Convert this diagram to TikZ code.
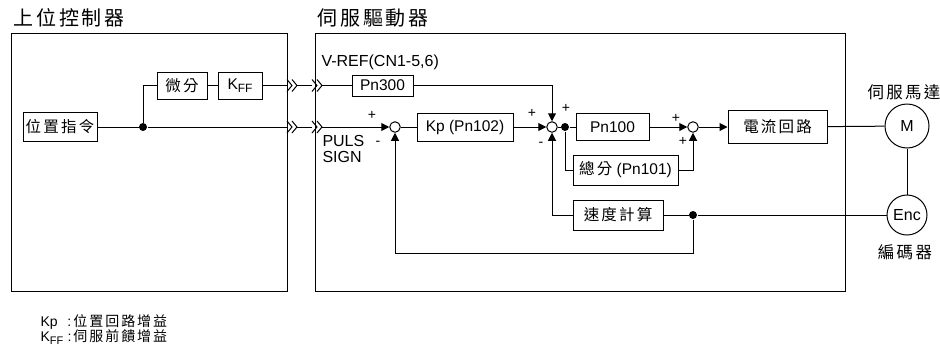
\documentclass[tikz,border=0pt]{standalone}
\usepackage{fontspec}
\setmainfont{Liberation Sans}
\newfontfamily\zhfont[LetterSpace=14]{Noto Sans CJK TC}
\newcommand\zh[1]{{\zhfont #1}}
\newcommand\kff[1][12]{K\raisebox{-0.35ex}{\fontsize{#1}{#1}\selectfont FF}}
\usepackage{tikz}
\usetikzlibrary{arrows.meta}

\begin{document}
\begin{tikzpicture}[x=1pt,y=-1pt,
    font=\fontsize{15.5}{18}\selectfont,line width=1pt,
    >={Triangle[length=8pt,width=8pt]},
    frame/.style={draw,line width=1pt,inner sep=0pt},
    blk/.style={draw,minimum height=28pt,inner sep=2pt},
    sumpt/.style={circle,draw,minimum size=10.5pt,inner sep=0pt},
    dotpt/.style={circle,fill,minimum size=8pt,inner sep=0pt},
    motor/.style={circle,draw,inner sep=0pt},
    sign/.style={font=\fontsize{14}{14}\selectfont,inner sep=0pt},
    lbl/.style={anchor=west,inner sep=0pt},
    title/.style={anchor=west,inner sep=0pt,font=\fontsize{20}{20}\selectfont},
    brk/.pic={\fill[white] (-5,-3) rectangle (5,3);
      \draw (-5,-6) -- (0,0) -- (-5,6) (0,-6) -- (5,0) -- (0,6);}
]
\useasboundingbox (0,0) rectangle (940,354);

% host controller side
\node[blk,minimum width=74pt,minimum height=29pt] (cmd) at (60,127) {\zh{位置指令}};
\node[dotpt] (split) at (143,127) {};
\node[blk,minimum width=50pt,minimum height=27pt] (diff) at (182,85.5) {\zh{微分}};
\node[blk,minimum width=44pt,minimum height=27pt] (kff) at (240,85.5) {\kff};

% servo drive side
\node[blk,minimum width=61pt,minimum height=21pt] (pn300) at (382.5,85.5) {Pn300};
\node[sumpt] (sum1) at (395,127) {};
\node[blk,minimum width=96pt] (kp) at (465,127) {Kp (Pn102)};
\node[sumpt] (sum2) at (552,127) {};
\node[dotpt] (tap) at (565,127) {};
\node[blk,minimum width=73pt,minimum height=27pt] (pn100) at (612.5,127) {Pn100};
\node[blk,minimum width=105pt,minimum height=30pt] (integ) at (625.5,170) {\zh{總分} (Pn101)};
\node[sumpt] (sum3) at (693,127) {};
\node[blk,minimum width=99pt,minimum height=33pt] (cur) at (777.5,127) {\zh{電流回路}};
\node[blk,minimum width=90pt,minimum height=30pt] (spd) at (618,215) {\zh{速度計算}};
\node[dotpt] (fbtap) at (693,215) {};
\coordinate (fbcorner) at (693,253);

% motor and encoder
\node[motor,minimum size=44pt,font=\fontsize{16}{16}\selectfont] (motor) at (907,126) {M};
\node[motor,minimum size=40pt,font=\fontsize{16}{16}\selectfont] (enc) at (907,215) {Enc};

\draw (cmd) -- (split);
\draw[->] (split) -- (sum1);
\draw (split) |- (diff);
\draw (diff) -- (kff);
\draw (kff) -- (pn300);
\draw[->] (pn300) -| (sum2);
\draw (sum1) -- (kp);
\draw[->] (kp) -- (sum2);
\draw (sum2) -- (tap) -- (pn100);
\draw (tap) |- (integ);
\draw[->] (pn100) -- (sum3);
\draw[->] (integ) -| (sum3);
\draw[->] (sum3) -- (cur);
\draw (cur) -- (motor);
\draw (motor) -- (enc);
\draw (enc) -- (fbtap) -- (spd);
\draw[->] (spd) -| (sum2);
\draw[->] (fbtap) -- (fbcorner) -| (sum1);

\pic at (292,85.5) {brk};
\pic at (317,85.5) {brk};
\pic at (292,127) {brk};
\pic at (317,127) {brk};

% frames and titles
\node[frame,minimum width=276pt,minimum height=258pt] (hostbox) at (149,162) {};
\node[frame,minimum width=530pt,minimum height=258pt] (drvbox) at (580,162) {};
\node[title] (hosttitle) at (13,18) {\zh{上位控制器}};
\node[title] (drvtitle) at (317,18) {\zh{伺服驅動器}};
\node[font=\fontsize{16.5}{16}\selectfont] (motortitle) at (904,92) {\zh{伺服馬達}};
\node[font=\fontsize{16.5}{16}\selectfont] (enctitle) at (905,252) {\zh{編碼器}};

\node[lbl,font=\fontsize{16}{16}\selectfont] (vref) at (321,62) {V-REF(CN1-5,6)};
\node[lbl,font=\fontsize{16}{16}\selectfont] (puls) at (322,141) {PULS};
\node[lbl,font=\fontsize{16}{16}\selectfont] (sign) at (322,157) {SIGN};

% signs at the summing points
\node[sign] (s1p) at (372,115) {+};
\node[sign] (s1m) at (378,143) {-};
\node[sign] (s2p) at (532,113) {+};
\node[sign] (s2t) at (566,108) {+};
\node[sign] (s2m) at (541,144) {-};
\node[sign] (s3p) at (676,118) {+};
\node[sign] (s3b) at (683,141) {+};

% legend
\node[lbl,font=\fontsize{14}{14}\selectfont] (legkp) at (40,322)
  {\makebox[27pt][l]{Kp}:\hspace{2pt}\zh{位置回路增益}};
\node[lbl,font=\fontsize{14}{14}\selectfont] (legkff) at (40,337)
  {\makebox[27pt][l]{\kff[11]}:\hspace{2pt}\zh{伺服前饋增益}};
\end{tikzpicture}
\end{document}
